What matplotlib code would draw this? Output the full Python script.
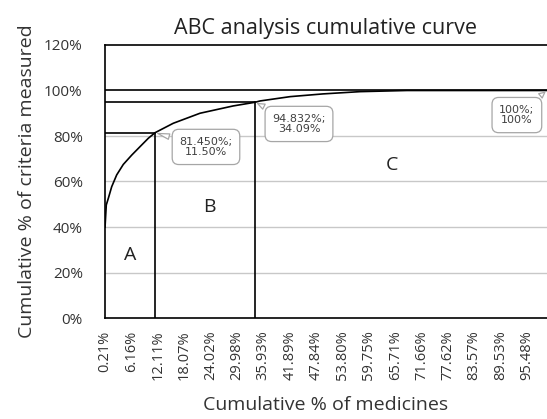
import matplotlib
matplotlib.use("Agg")
import matplotlib.pyplot as plt

# cumulative curve
medicine_pct = [0.21, 0.49, 0.95, 1.71, 2.84, 4.33, 6.23, 8.10, 9.98, 11.50,
                15.62, 21.65, 29.10, 34.09, 35.20, 42.00, 49.40, 57.80, 68.40, 100.0]
criteria_pct = [40.0, 49.7, 52.6, 57.7, 62.9, 67.5, 71.6, 75.3, 79.0, 81.45,
                85.6, 90.0, 93.2, 94.832, 95.4, 97.3, 98.5, 99.5, 100.0, 100.0]

# class boundaries (A/B, B/C) and end point
cut_x = [11.50, 34.09, 100.0]
cut_y = [81.450, 94.832, 100.0]
cut_labels = ["81.450%;\n11.50%", "94.832%;\n34.09%", "100%;\n100%"]
label_pos = [(23.0, 75.2), (44.0, 85.3), (93.2, 89.2)]

x_ticks = [0.21, 6.16, 12.11, 18.07, 24.02, 29.98, 35.93, 41.89, 47.84,
           53.80, 59.75, 65.71, 71.66, 77.62, 83.57, 89.53, 95.48]
y_ticks = [0, 20, 40, 60, 80, 100, 120]

classes = ["A", "B", "C"]
class_pos = [(5.85, 27.7), (23.7, 48.8), (65.0, 67.3)]

plt.rcParams["font.family"] = ["Open Sans", "DejaVu Sans"]

fig = plt.figure(figsize=(5.47, 4.19), dpi=100)
ax = fig.add_axes([105 / 547, 101 / 419, 442 / 547, 273 / 419])

ax.set_xlim(0.2, 100.0)
ax.set_ylim(0, 120)

# gridlines
for v in y_ticks[1:-2]:
    ax.axhline(v, color="#c8c8c8", lw=1.0, zorder=0)
ax.axhline(100, color="black", lw=1.2, zorder=2)

# curve
ax.plot(medicine_pct, criteria_pct, color="black", lw=1.2, zorder=3)

# class boundary lines
for cx, cy in zip(cut_x[:2], cut_y[:2]):
    ax.plot([cx, cx], [0, cy], color="black", lw=1.2, zorder=2)
    ax.plot([0.2, cx], [cy, cy], color="black", lw=1.2, zorder=2)

# callouts
for (cx, cy), txt, (tx, ty) in zip(zip(cut_x, cut_y), cut_labels, label_pos):
    ax.annotate(txt, xy=(cx, cy), xytext=(tx, ty), ha="center", va="center",
                fontsize=8, family="DejaVu Sans", color="#404040", linespacing=1.1,
                bbox=dict(boxstyle="round,pad=0.65,rounding_size=0.6", fc="white",
                          ec="#a6a6a6", lw=0.9),
                arrowprops=dict(arrowstyle="wedge,tail_width=0.5,shrink_factor=0.5",
                                fc="white", ec="#a6a6a6", lw=0.9),
                zorder=5)

for c, (px, py) in zip(classes, class_pos):
    ax.text(px, py, c, ha="center", va="center", fontsize=14, color="#222222")

ax.set_xticks(x_ticks)
ax.set_xticklabels([f"{v:.2f}%" for v in x_ticks], rotation=90, fontsize=10.5,
                   color="#333333")
ax.set_yticks(y_ticks)
ax.set_yticklabels([f"{v}%" for v in y_ticks], fontsize=11, color="#333333")
ax.tick_params(axis="both", length=0)
ax.tick_params(axis="x", pad=9)
ax.tick_params(axis="y", pad=16)

for s in ["left", "bottom", "top"]:
    ax.spines[s].set_color("black")
    ax.spines[s].set_linewidth(1.2)
ax.spines["right"].set_visible(False)

ax.set_title("ABC analysis cumulative curve", fontsize=15.5, color="#222222", pad=8)
ax.set_xlabel("Cumulative % of medicines", fontsize=14, color="#333333", labelpad=11)
ax.set_ylabel("Cumulative % of criteria measured", fontsize=14, color="#333333",
              labelpad=6)

fig.savefig("out.png", dpi=100)
